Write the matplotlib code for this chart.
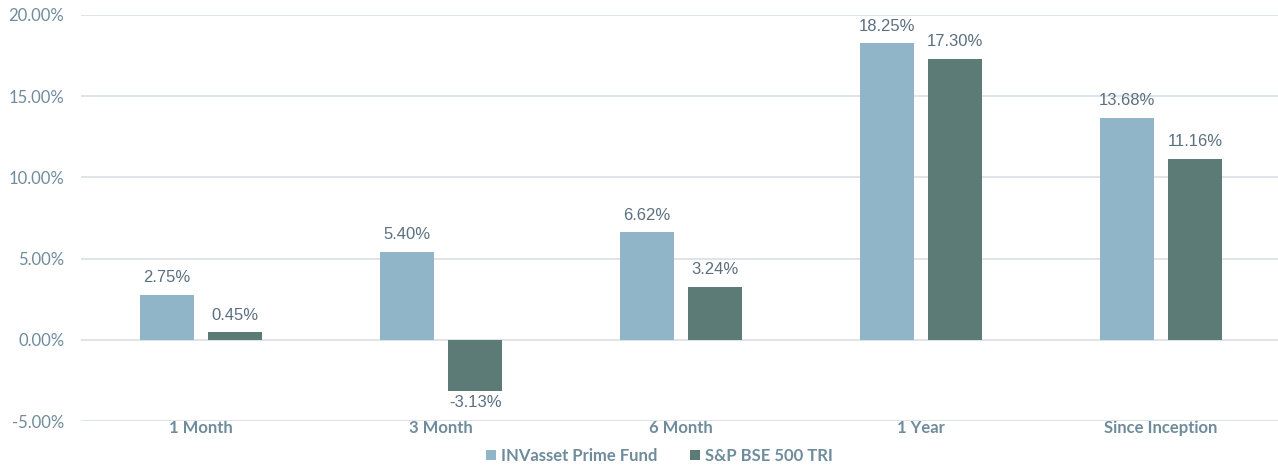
import numpy as np
import matplotlib.pyplot as plt

categories = ['1 Month', '3 Month', '6 Month', '1 Year', 'Since Inception']
fund = [2.75, 5.40, 6.62, 18.25, 13.68]
index = [0.45, -3.13, 3.24, 17.30, 11.16]
series_names = ['INVasset Prime Fund', 'S&P BSE 500 TRI']

fund_color = '#91B5C8'
index_color = '#5C7A76'
tick_color = '#6F8C9C'
label_color = '#5A7080'

fig = plt.figure(figsize=(12.78, 4.67), dpi=100)
ax = fig.add_axes([81 / 1278, 1 - 421 / 467, (1281 - 81) / 1278, (421 - 15) / 467])

x = np.arange(len(categories))
w = 0.225
off = 0.142
b1 = ax.bar(x - off, fund, w, color=fund_color, label=series_names[0], zorder=3)
b2 = ax.bar(x + off, index, w, color=index_color, label=series_names[1], zorder=3)

for bars, vals in ((b1, fund), (b2, index)):
    for bar, v in zip(bars, vals):
        cx = bar.get_x() + bar.get_width() / 2
        if v >= 0:
            ax.annotate(f'{v:.2f}%', (cx, v), xytext=(0, 7), textcoords='offset points',
                        ha='center', va='bottom', fontsize=12, color=label_color,
                        family='Liberation Sans')
        else:
            ax.annotate(f'{v:.2f}%', (cx, v), xytext=(0, -3), textcoords='offset points',
                        ha='center', va='top', fontsize=12, color=label_color,
                        family='Liberation Sans')

ax.set_xlim(-0.5, len(categories) - 0.5)
ax.set_ylim(-5, 20)
ax.set_yticks(np.arange(-5, 21, 5))
ax.set_yticklabels([f'{t:.2f}%' for t in np.arange(-5, 21, 5)],
                   fontsize=12, color=tick_color, family='Lato')
ax.yaxis.grid(True, color='#DCE2E7', linewidth=1.3, zorder=0)
ax.tick_params(axis='y', length=0, pad=12)
ax.tick_params(axis='x', length=0, pad=-1)
ax.set_xticks(x)
ax.set_xticklabels(categories, fontsize=12, color=tick_color, family='Lato', fontweight='bold')
for s in ax.spines.values():
    s.set_visible(False)

fig.legend(handles=[b1, b2], loc='center', bbox_to_anchor=(0.516, 1 - 456 / 467), ncol=2,
           frameon=False, handlelength=0.6, handleheight=0.6, handletextpad=0.3,
           columnspacing=2.0, borderaxespad=0, borderpad=0,
           prop={'family': 'Lato', 'weight': 'bold', 'size': 12}, labelcolor=tick_color)

fig.savefig('out.png', dpi=100)
